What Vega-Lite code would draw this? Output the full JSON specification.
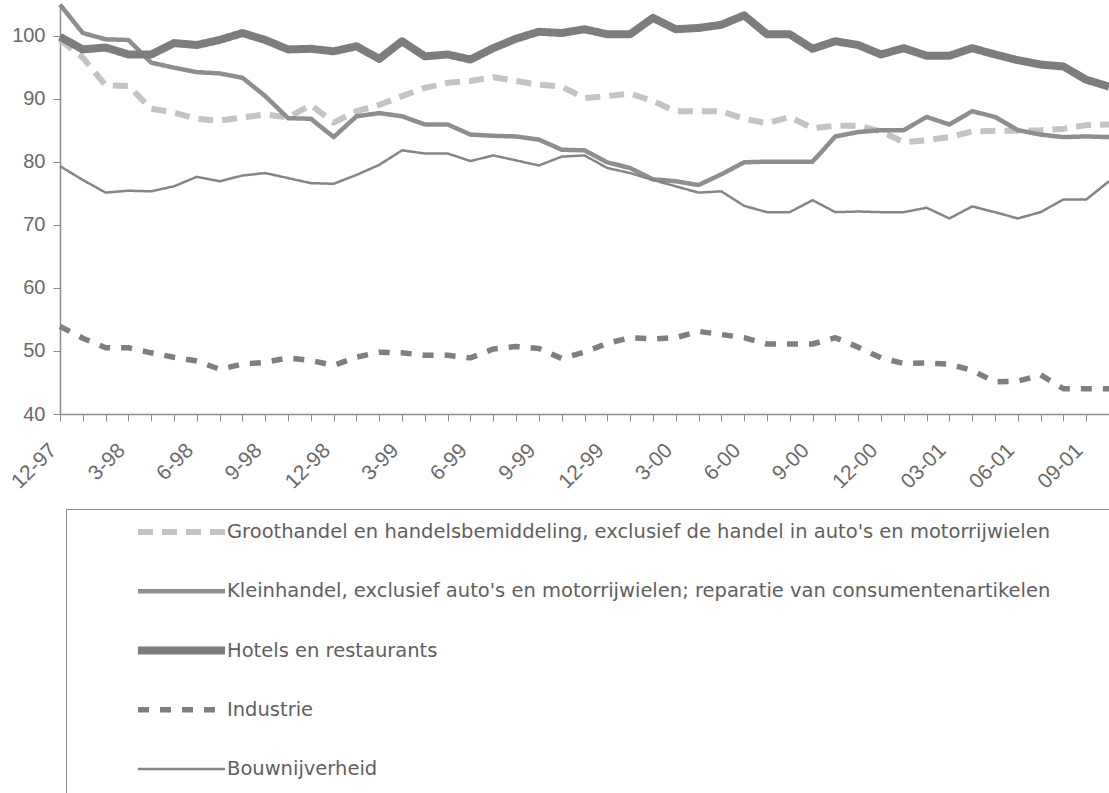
{
"$schema": "https://vega.github.io/schema/vega-lite/v6.json",
"width": 1049, "height": 410,
"autosize": {"type": "none"},
"padding": {"left": 60, "top": 4, "right": 0, "bottom": 379},
"background": "white",
"config": {"view": {"stroke": null}, "font": "Liberation Sans"},
"datasets": {"names": [
 {"s": "G", "name": "Groothandel en handelsbemiddeling, exclusief de handel in auto's en motorrijwielen"},
 {"s": "K", "name": "Kleinhandel, exclusief auto's en motorrijwielen; reparatie van consumentenartikelen"},
 {"s": "H", "name": "Hotels en restaurants"},
 {"s": "I", "name": "Industrie"},
 {"s": "B", "name": "Bouwnijverheid"}
]},
"data": {"values": [
{"m":"12-97","s":"G","v":99.3},{"m":"1-98","s":"G","v":96.5},{"m":"2-98","s":"G","v":92.1},{"m":"3-98","s":"G","v":92.0},{"m":"4-98","s":"G","v":88.4},{"m":"5-98","s":"G","v":87.8},{"m":"6-98","s":"G","v":86.8},{"m":"7-98","s":"G","v":86.5},{"m":"8-98","s":"G","v":87.0},{"m":"9-98","s":"G","v":87.5},{"m":"10-98","s":"G","v":87.0},{"m":"11-98","s":"G","v":89.0},{"m":"12-98","s":"G","v":86.2},{"m":"1-99","s":"G","v":88.0},{"m":"2-99","s":"G","v":89.0},{"m":"3-99","s":"G","v":90.4},{"m":"4-99","s":"G","v":91.7},{"m":"5-99","s":"G","v":92.5},{"m":"6-99","s":"G","v":92.8},{"m":"7-99","s":"G","v":93.4},{"m":"8-99","s":"G","v":92.8},{"m":"9-99","s":"G","v":92.2},{"m":"10-99","s":"G","v":91.9},{"m":"11-99","s":"G","v":90.1},{"m":"12-99","s":"G","v":90.4},{"m":"1-00","s":"G","v":90.8},{"m":"2-00","s":"G","v":89.6},{"m":"3-00","s":"G","v":88.0},{"m":"4-00","s":"G","v":88.0},{"m":"5-00","s":"G","v":88.0},{"m":"6-00","s":"G","v":86.8},{"m":"7-00","s":"G","v":86.1},{"m":"8-00","s":"G","v":87.1},{"m":"9-00","s":"G","v":85.3},{"m":"10-00","s":"G","v":85.7},{"m":"11-00","s":"G","v":85.7},{"m":"12-00","s":"G","v":84.8},{"m":"01-01","s":"G","v":83.1},{"m":"02-01","s":"G","v":83.4},{"m":"03-01","s":"G","v":83.9},{"m":"04-01","s":"G","v":84.8},{"m":"05-01","s":"G","v":84.9},{"m":"06-01","s":"G","v":84.9},{"m":"07-01","s":"G","v":85.0},{"m":"08-01","s":"G","v":85.2},{"m":"09-01","s":"G","v":85.8},{"m":"10-01","s":"G","v":85.9},
{"m":"12-97","s":"K","v":104.9},{"m":"1-98","s":"K","v":100.4},{"m":"2-98","s":"K","v":99.4},{"m":"3-98","s":"K","v":99.3},{"m":"4-98","s":"K","v":95.7},{"m":"5-98","s":"K","v":94.9},{"m":"6-98","s":"K","v":94.2},{"m":"7-98","s":"K","v":94.0},{"m":"8-98","s":"K","v":93.3},{"m":"9-98","s":"K","v":90.4},{"m":"10-98","s":"K","v":86.9},{"m":"11-98","s":"K","v":86.8},{"m":"12-98","s":"K","v":83.9},{"m":"1-99","s":"K","v":87.2},{"m":"2-99","s":"K","v":87.7},{"m":"3-99","s":"K","v":87.2},{"m":"4-99","s":"K","v":85.9},{"m":"5-99","s":"K","v":85.9},{"m":"6-99","s":"K","v":84.3},{"m":"7-99","s":"K","v":84.1},{"m":"8-99","s":"K","v":84.0},{"m":"9-99","s":"K","v":83.5},{"m":"10-99","s":"K","v":81.9},{"m":"11-99","s":"K","v":81.8},{"m":"12-99","s":"K","v":79.9},{"m":"1-00","s":"K","v":79.0},{"m":"2-00","s":"K","v":77.2},{"m":"3-00","s":"K","v":76.9},{"m":"4-00","s":"K","v":76.3},{"m":"5-00","s":"K","v":78.0},{"m":"6-00","s":"K","v":79.9},{"m":"7-00","s":"K","v":80.0},{"m":"8-00","s":"K","v":80.0},{"m":"9-00","s":"K","v":80.0},{"m":"10-00","s":"K","v":84.0},{"m":"11-00","s":"K","v":84.7},{"m":"12-00","s":"K","v":85.0},{"m":"01-01","s":"K","v":85.0},{"m":"02-01","s":"K","v":87.1},{"m":"03-01","s":"K","v":85.9},{"m":"04-01","s":"K","v":88.0},{"m":"05-01","s":"K","v":87.1},{"m":"06-01","s":"K","v":85.0},{"m":"07-01","s":"K","v":84.3},{"m":"08-01","s":"K","v":83.9},{"m":"09-01","s":"K","v":84.0},{"m":"10-01","s":"K","v":83.9},
{"m":"12-97","s":"H","v":99.8},{"m":"1-98","s":"H","v":97.8},{"m":"2-98","s":"H","v":98.1},{"m":"3-98","s":"H","v":97.0},{"m":"4-98","s":"H","v":97.0},{"m":"5-98","s":"H","v":98.8},{"m":"6-98","s":"H","v":98.5},{"m":"7-98","s":"H","v":99.3},{"m":"8-98","s":"H","v":100.4},{"m":"9-98","s":"H","v":99.3},{"m":"10-98","s":"H","v":97.8},{"m":"11-98","s":"H","v":97.9},{"m":"12-98","s":"H","v":97.5},{"m":"1-99","s":"H","v":98.3},{"m":"2-99","s":"H","v":96.3},{"m":"3-99","s":"H","v":99.1},{"m":"4-99","s":"H","v":96.7},{"m":"5-99","s":"H","v":97.0},{"m":"6-99","s":"H","v":96.2},{"m":"7-99","s":"H","v":98.0},{"m":"8-99","s":"H","v":99.5},{"m":"9-99","s":"H","v":100.6},{"m":"10-99","s":"H","v":100.4},{"m":"11-99","s":"H","v":101.0},{"m":"12-99","s":"H","v":100.2},{"m":"1-00","s":"H","v":100.2},{"m":"2-00","s":"H","v":102.8},{"m":"3-00","s":"H","v":101.0},{"m":"4-00","s":"H","v":101.2},{"m":"5-00","s":"H","v":101.7},{"m":"6-00","s":"H","v":103.2},{"m":"7-00","s":"H","v":100.2},{"m":"8-00","s":"H","v":100.2},{"m":"9-00","s":"H","v":97.9},{"m":"10-00","s":"H","v":99.1},{"m":"11-00","s":"H","v":98.5},{"m":"12-00","s":"H","v":97.0},{"m":"01-01","s":"H","v":98.0},{"m":"02-01","s":"H","v":96.8},{"m":"03-01","s":"H","v":96.8},{"m":"04-01","s":"H","v":98.0},{"m":"05-01","s":"H","v":97.0},{"m":"06-01","s":"H","v":96.1},{"m":"07-01","s":"H","v":95.4},{"m":"08-01","s":"H","v":95.1},{"m":"09-01","s":"H","v":93.0},{"m":"10-01","s":"H","v":91.9},
{"m":"12-97","s":"I","v":53.9},{"m":"1-98","s":"I","v":52.0},{"m":"2-98","s":"I","v":50.5},{"m":"3-98","s":"I","v":50.5},{"m":"4-98","s":"I","v":49.7},{"m":"5-98","s":"I","v":49.0},{"m":"6-98","s":"I","v":48.4},{"m":"7-98","s":"I","v":47.1},{"m":"8-98","s":"I","v":47.9},{"m":"9-98","s":"I","v":48.2},{"m":"10-98","s":"I","v":48.9},{"m":"11-98","s":"I","v":48.5},{"m":"12-98","s":"I","v":47.7},{"m":"1-99","s":"I","v":49.0},{"m":"2-99","s":"I","v":49.8},{"m":"3-99","s":"I","v":49.7},{"m":"4-99","s":"I","v":49.3},{"m":"5-99","s":"I","v":49.3},{"m":"6-99","s":"I","v":48.9},{"m":"7-99","s":"I","v":50.3},{"m":"8-99","s":"I","v":50.7},{"m":"9-99","s":"I","v":50.4},{"m":"10-99","s":"I","v":48.8},{"m":"11-99","s":"I","v":49.8},{"m":"12-99","s":"I","v":51.2},{"m":"1-00","s":"I","v":52.1},{"m":"2-00","s":"I","v":51.9},{"m":"3-00","s":"I","v":52.1},{"m":"4-00","s":"I","v":53.1},{"m":"5-00","s":"I","v":52.6},{"m":"6-00","s":"I","v":52.1},{"m":"7-00","s":"I","v":51.1},{"m":"8-00","s":"I","v":51.1},{"m":"9-00","s":"I","v":51.1},{"m":"10-00","s":"I","v":52.1},{"m":"11-00","s":"I","v":50.6},{"m":"12-00","s":"I","v":48.9},{"m":"01-01","s":"I","v":48.0},{"m":"02-01","s":"I","v":48.1},{"m":"03-01","s":"I","v":47.9},{"m":"04-01","s":"I","v":46.9},{"m":"05-01","s":"I","v":45.1},{"m":"06-01","s":"I","v":45.2},{"m":"07-01","s":"I","v":46.2},{"m":"08-01","s":"I","v":44.0},{"m":"09-01","s":"I","v":44.0},{"m":"10-01","s":"I","v":44.0},
{"m":"12-97","s":"B","v":79.3},{"m":"1-98","s":"B","v":77.1},{"m":"2-98","s":"B","v":75.1},{"m":"3-98","s":"B","v":75.4},{"m":"4-98","s":"B","v":75.3},{"m":"5-98","s":"B","v":76.1},{"m":"6-98","s":"B","v":77.6},{"m":"7-98","s":"B","v":76.9},{"m":"8-98","s":"B","v":77.8},{"m":"9-98","s":"B","v":78.2},{"m":"10-98","s":"B","v":77.4},{"m":"11-98","s":"B","v":76.6},{"m":"12-98","s":"B","v":76.5},{"m":"1-99","s":"B","v":77.9},{"m":"2-99","s":"B","v":79.5},{"m":"3-99","s":"B","v":81.8},{"m":"4-99","s":"B","v":81.3},{"m":"5-99","s":"B","v":81.3},{"m":"6-99","s":"B","v":80.1},{"m":"7-99","s":"B","v":81.0},{"m":"8-99","s":"B","v":80.2},{"m":"9-99","s":"B","v":79.4},{"m":"10-99","s":"B","v":80.8},{"m":"11-99","s":"B","v":81.0},{"m":"12-99","s":"B","v":79.0},{"m":"1-00","s":"B","v":78.2},{"m":"2-00","s":"B","v":77.1},{"m":"3-00","s":"B","v":76.1},{"m":"4-00","s":"B","v":75.1},{"m":"5-00","s":"B","v":75.3},{"m":"6-00","s":"B","v":73.0},{"m":"7-00","s":"B","v":72.0},{"m":"8-00","s":"B","v":72.0},{"m":"9-00","s":"B","v":73.9},{"m":"10-00","s":"B","v":72.0},{"m":"11-00","s":"B","v":72.1},{"m":"12-00","s":"B","v":72.0},{"m":"01-01","s":"B","v":72.0},{"m":"02-01","s":"B","v":72.7},{"m":"03-01","s":"B","v":71.0},{"m":"04-01","s":"B","v":72.9},{"m":"05-01","s":"B","v":72.0},{"m":"06-01","s":"B","v":71.0},{"m":"07-01","s":"B","v":72.0},{"m":"08-01","s":"B","v":74.0},{"m":"09-01","s":"B","v":74.0},{"m":"10-01","s":"B","v":76.9}
]},
"transform": [{"lookup": "s", "from": {"data": {"name": "names"}, "key": "s", "fields": ["name"]}}],
"mark": {"type": "line", "strokeJoin": "round"},
"encoding": {
 "x": {"field": "m", "type": "ordinal", "sort": null, "scale": {"type": "point", "padding": 0},
  "axis": {"title": null, "labelAngle": -45, "labelAlign": "right", "labelBaseline": "middle", "labelPadding": 26, "labelOffset": -7, "tickSize": 7, "labelOverlap": false, "labelFontSize": 21, "labelColor": "#6a6a6a", "domainColor": "#8c8c8c", "tickColor": "#8c8c8c", "domainWidth": 1.5, "labelFont": "Liberation Sans",
   "labelExpr": "indexof(['12-97','3-98','6-98','9-98','12-98','3-99','6-99','9-99','12-99','3-00','6-00','9-00','12-00','03-01','06-01','09-01'], datum.value) >= 0 ? datum.value : ''"}},
 "y": {"field": "v", "type": "quantitative", "scale": {"domain": [40, 105], "nice": false, "zero": false},
  "axis": {"title": null, "values": [40, 50, 60, 70, 80, 90, 100], "grid": false, "tickSize": 7, "labelPadding": 8, "labelFontSize": 20, "labelColor": "#6a6a6a", "domainColor": "#8c8c8c", "tickColor": "#8c8c8c", "domainWidth": 1.5, "labelFont": "Liberation Sans"}},
 "color": {"field": "name", "type": "nominal",
  "scale": {"domain": ["Groothandel en handelsbemiddeling, exclusief de handel in auto's en motorrijwielen", "Kleinhandel, exclusief auto's en motorrijwielen; reparatie van consumentenartikelen", "Hotels en restaurants", "Industrie", "Bouwnijverheid", "zz"],
   "range": ["#c4c4c4", "#8e8e8e", "#7d7d7d", "#7f7f7f", "#858585", "rgba(255,255,255,0)"]},
  "legend": {"orient": "none", "legendX": 6, "legendY": 505, "direction": "vertical", "title": " ", "titleOrient": "right", "titleFontSize": 1, "titlePadding": 300, "strokeColor": "#8c8c8c", "padding": 13, "symbolType": "stroke", "symbolSize": 7569, "symbolOffset": 55, "clipHeight": 20, "rowPadding": 39.25, "labelFontSize": 19.5, "labelColor": "#5f5f5f", "labelFont": "DejaVu Sans", "labelOffset": -2, "labelLimit": 5000,
   "labelExpr": "datum.label == 'zz' ? '' : datum.label"}},
 "strokeDash": {"field": "name", "type": "nominal",
  "scale": {"domain": ["Groothandel en handelsbemiddeling, exclusief de handel in auto's en motorrijwielen", "Kleinhandel, exclusief auto's en motorrijwielen; reparatie van consumentenartikelen", "Hotels en restaurants", "Industrie", "Bouwnijverheid", "zz"],
   "range": [[15, 9], [1, 0], [1, 0], [11, 11], [1, 0], [1, 0]]}},
 "strokeWidth": {"field": "name", "type": "nominal",
  "scale": {"type": "ordinal", "domain": ["Groothandel en handelsbemiddeling, exclusief de handel in auto's en motorrijwielen", "Kleinhandel, exclusief auto's en motorrijwielen; reparatie van consumentenartikelen", "Hotels en restaurants", "Industrie", "Bouwnijverheid", "zz"],
   "range": [6, 4.5, 8, 5.5, 2.5, 1]}}
}
}
